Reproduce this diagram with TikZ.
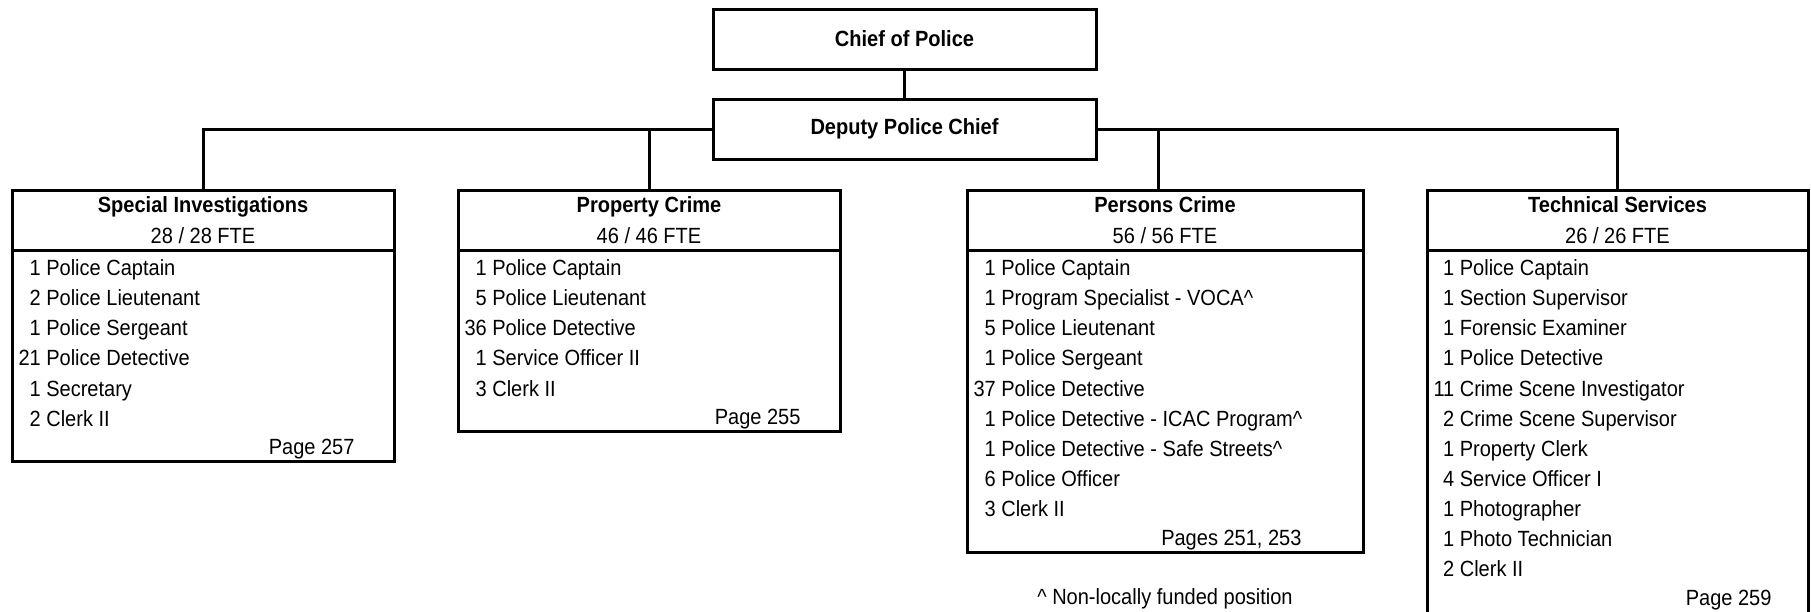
\documentclass[tikz,border=0pt]{standalone}
\usepackage{fontspec}
\setmainfont{Liberation Sans}[FakeStretch=0.91]
\usetikzlibrary{positioning}

\newcommand{\roster}[1]{\begin{tabular}{@{}r@{\ }l@{}}#1\end{tabular}}
\newcommand{\unittitle}[2]{\textbf{#1}\\#2}

\begin{document}
\begin{tikzpicture}[x=1pt, y=-1pt, line width=3pt,
  every node/.style={font=\fontsize{22}{30.1}\selectfont},
  chiefbox/.style={draw, inner sep=0pt, outer sep=0pt, minimum width=383pt, minimum height=60pt,
    font=\bfseries\fontsize{22}{30}\selectfont},
  unitbox/.style={draw, anchor=north, align=center, inner sep=0pt, outer sep=0pt, minimum height=60pt,
    font=\fontsize{22}{31}\selectfont},
  staffbox/.style={draw, anchor=north, inner sep=0pt, outer sep=0pt},
  stafflist/.style={anchor=north west, inner sep=0pt},
  pageref/.style={anchor=base east, inner sep=0pt}]
\useasboundingbox (0,0) rectangle (1811,611);

\node at (904.5, 39) [chiefbox] (chief) {Chief of Police};
\node at (904.5, 129) [chiefbox] (deputy) {Deputy Police Chief};

% divisions
\node at (203, 190) [unitbox, minimum width=382pt] (si) {\unittitle{Special Investigations}{28 / 28 FTE}};
\node at (si.south) [staffbox, minimum width=382pt, minimum height=211pt] (si-body) {};
\node at (17, 253.1) [stafflist] (si-list) {\roster{
  1 & Police Captain\\ 2 & Police Lieutenant\\ 1 & Police Sergeant\\
  21 & Police Detective\\ 1 & Secretary\\ 2 & Clerk II}};
\node at (356, 454.6) [pageref] (si-page) {Page 257};

\node at (649, 190) [unitbox, minimum width=382pt] (pc) {\unittitle{Property Crime}{46 / 46 FTE}};
\node at (pc.south) [staffbox, minimum width=382pt, minimum height=181pt] (pc-body) {};
\node at (463, 253.1) [stafflist] (pc-list) {\roster{
  1 & Police Captain\\ 5 & Police Lieutenant\\ 36 & Police Detective\\
  1 & Service Officer II\\ 3 & Clerk II}};
\node at (802, 424.5) [pageref] (pc-page) {Page 255};

\node at (1165, 190) [unitbox, minimum width=396pt] (pers) {\unittitle{Persons Crime}{56 / 56 FTE}};
\node at (pers.south) [staffbox, minimum width=396pt, minimum height=302pt] (pers-body) {};
\node at (972, 253.1) [stafflist] (pers-list) {\roster{
  1 & Police Captain\\ 1 & Program Specialist - VOCA\textasciicircum\\
  5 & Police Lieutenant\\ 1 & Police Sergeant\\ 37 & Police Detective\\
  1 & Police Detective - ICAC Program\textasciicircum\\
  1 & Police Detective - Safe Streets\textasciicircum\\
  6 & Police Officer\\ 3 & Clerk II}};
\node at (1303, 545) [pageref] (pers-page) {Pages 251, 253};

\node at (1617.5, 190) [unitbox, minimum width=381pt] (ts) {\unittitle{Technical Services}{26 / 26 FTE}};
\node at (ts.south) [staffbox, minimum width=381pt, minimum height=375pt] (ts-body) {};
\node at (1432, 253.1) [stafflist] (ts-list) {\roster{
  1 & Police Captain\\ 1 & Section Supervisor\\ 1 & Forensic Examiner\\
  1 & Police Detective\\ 11 & Crime Scene Investigator\\
  2 & Crime Scene Supervisor\\ 1 & Property Clerk\\ 4 & Service Officer I\\
  1 & Photographer\\ 1 & Photo Technician\\ 2 & Clerk II}};
\node at (1773, 605.1) [pageref] (ts-page) {Page 259};

\node at (1165, 604) [anchor=base] (note) {\textasciicircum\ Non-locally funded position};

\draw (chief) -- (deputy);
\draw (deputy.west) -| (si.north);
\draw (deputy.west) -| (pc.north);
\draw (deputy.east) -| ([xshift=-7pt]pers.north);
\draw (deputy.east) -| (ts.north);
\end{tikzpicture}
\end{document}
